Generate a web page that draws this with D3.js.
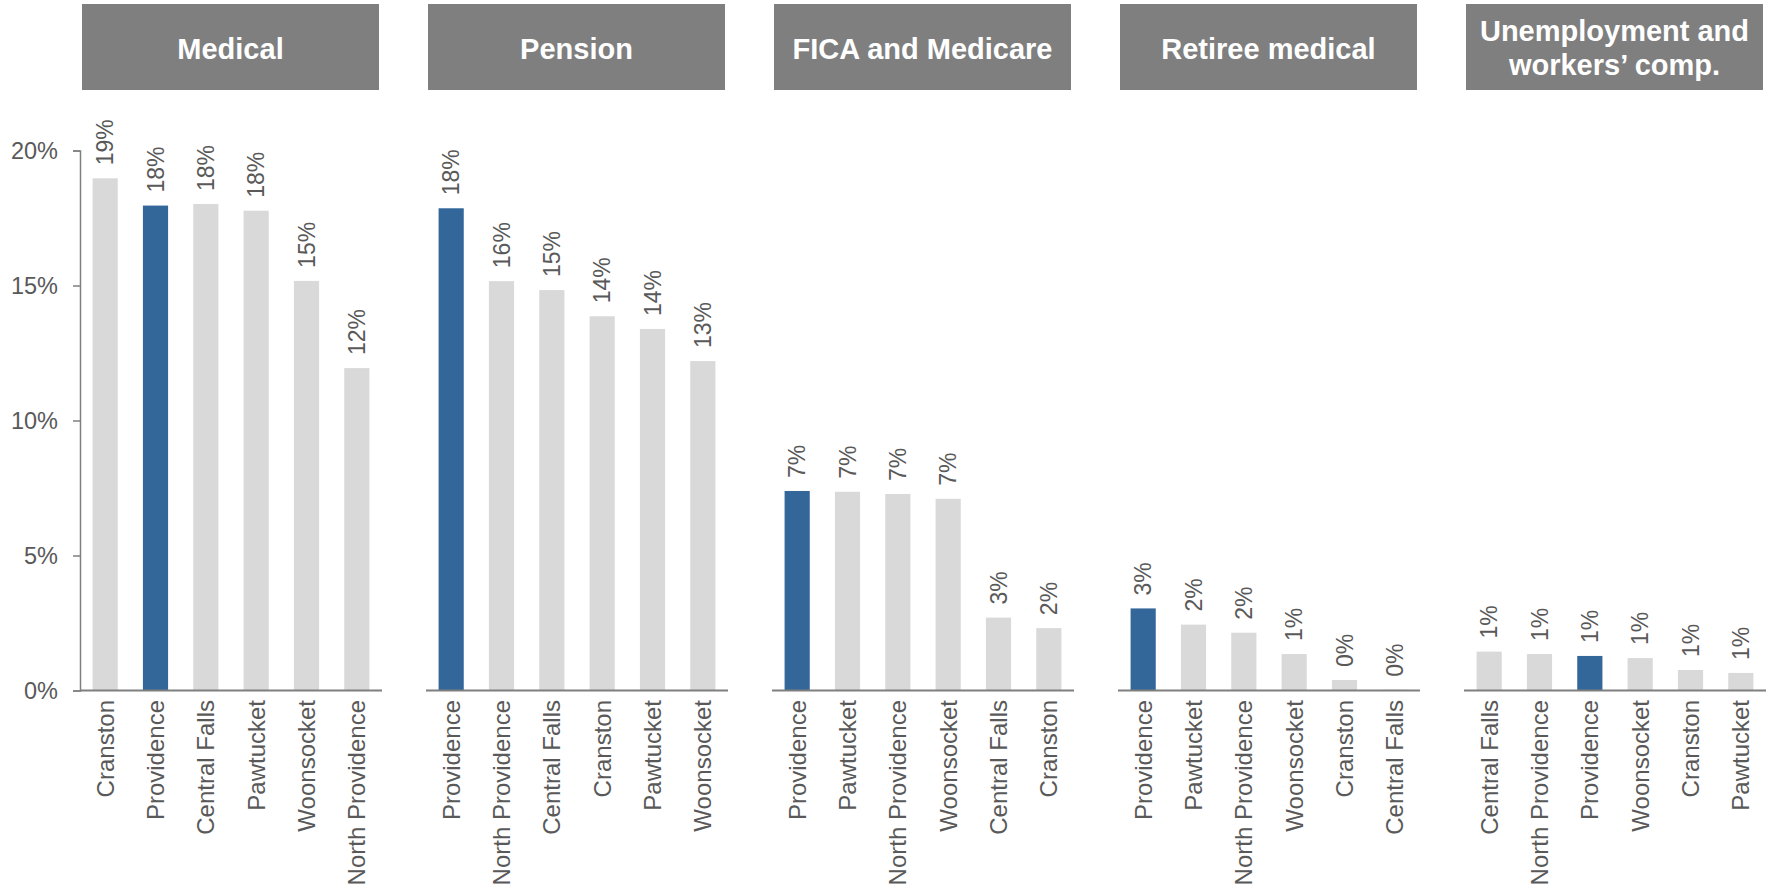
<!DOCTYPE html>
<html>
<head>
<meta charset="utf-8">
<script src="https://cdn.jsdelivr.net/npm/d3@7"></script>
<style>
  body { margin: 0; background: #fff; }
  svg { display: block; font-family: "Liberation Sans", Arial, sans-serif; }
</style>
</head>
<body>
<div id="chart"></div>
<script>
const titles = [['Medical'], ['Pension'], ['FICA and Medicare'], ['Retiree medical'], ['Unemployment and', 'workers\u2019 comp.']];

const medicalCities = ['Cranston', 'Providence', 'Central Falls', 'Pawtucket', 'Woonsocket', 'North Providence'];
const medicalValues = [18.97, 17.96, 18.02, 17.77, 15.17, 11.94];
const medicalLabels = ['19%', '18%', '18%', '18%', '15%', '12%'];

const pensionCities = ['Providence', 'North Providence', 'Central Falls', 'Cranston', 'Pawtucket', 'Woonsocket'];
const pensionValues = [17.86, 15.16, 14.83, 13.86, 13.39, 12.2];
const pensionLabels = ['18%', '16%', '15%', '14%', '14%', '13%'];

const ficaCities = ['Providence', 'Pawtucket', 'North Providence', 'Woonsocket', 'Central Falls', 'Cranston'];
const ficaValues = [7.39, 7.36, 7.28, 7.1, 2.7, 2.31];
const ficaLabels = ['7%', '7%', '7%', '7%', '3%', '2%'];

const retireeCities = ['Providence', 'Pawtucket', 'North Providence', 'Woonsocket', 'Cranston', 'Central Falls'];
const retireeValues = [3.04, 2.44, 2.14, 1.35, 0.39, 0.03];
const retireeLabels = ['3%', '2%', '2%', '1%', '0%', '0%'];

const unempCities = ['Central Falls', 'North Providence', 'Providence', 'Woonsocket', 'Cranston', 'Pawtucket'];
const unempValues = [1.44, 1.35, 1.28, 1.2, 0.76, 0.65];
const unempLabels = ['1%', '1%', '1%', '1%', '1%', '1%'];

const yTicks = [0, 5, 10, 15, 20];
const highlight = 'Providence';

const panels = [
  { cities: medicalCities, values: medicalValues, labels: medicalLabels },
  { cities: pensionCities, values: pensionValues, labels: pensionLabels },
  { cities: ficaCities, values: ficaValues, labels: ficaLabels },
  { cities: retireeCities, values: retireeValues, labels: retireeLabels },
  { cities: unempCities, values: unempValues, labels: unempLabels }
];

const width = 1770;
const height = 891;
const panelLeft = 80;
const panelStep = 346;
const panelWidth = 302;

const svg = d3.select('#chart')
  .append('svg')
    .attr('width', width)
    .attr('height', height);

const y = d3.scaleLinear()
  .domain([0, 20])
  .range([690.5, 150.5]);

panels.forEach((p, i) => {
  const left = panelLeft + i * panelStep;
  const g = svg.append('g');

  // header box
  g.append('rect')
    .attr('x', left + 2)
    .attr('y', 4)
    .attr('width', 297)
    .attr('height', 86)
    .attr('fill', '#7f7f7f');

  const t = titles[i];
  const baselines = t.length === 1 ? [59] : [41, 75];
  t.forEach((line, j) => {
    g.append('text')
      .attr('x', left + 2 + 297 / 2)
      .attr('y', baselines[j])
      .attr('text-anchor', 'middle')
      .attr('fill', '#fff')
      .attr('font-weight', 'bold')
      .attr('font-size', '29px')
      .text(line);
  });

  const x = d3.scaleBand()
    .domain(p.cities)
    .range([left, left + panelWidth])
    .paddingInner(0.5)
    .paddingOuter(0.25);

  const data = p.cities.map((c, k) => ({ city: c, value: p.values[k], label: p.labels[k] }));

  g.selectAll('rect.bar')
    .data(data)
    .enter()
    .append('rect')
      .attr('class', 'bar')
      .attr('x', d => x(d.city))
      .attr('width', x.bandwidth())
      .attr('y', d => y(d.value))
      .attr('height', d => y(0) - y(d.value))
      .attr('fill', d => d.city === highlight ? '#336699' : '#d9d9d9');

  // value labels
  g.selectAll('text.val')
    .data(data)
    .enter()
    .append('text')
      .attr('class', 'val')
      .attr('transform', d => `translate(${x(d.city) + x.bandwidth() / 2},${y(d.value) - 13}) rotate(-90)`)
      .attr('dy', '0.35em')
      .attr('fill', '#595959')
      .attr('font-size', '23px')
      .text(d => d.label);

  // category labels
  g.selectAll('text.cat')
    .data(data)
    .enter()
    .append('text')
      .attr('class', 'cat')
      .attr('transform', d => `translate(${x(d.city) + x.bandwidth() / 2},700) rotate(-90)`)
      .attr('dy', '0.35em')
      .attr('text-anchor', 'end')
      .attr('fill', '#595959')
      .attr('font-size', '24px')
      .text(d => d.city);

  // baseline
  g.append('line')
    .attr('x1', left)
    .attr('x2', left + panelWidth)
    .attr('y1', y(0))
    .attr('y2', y(0))
    .attr('stroke', '#7f7f7f')
    .attr('stroke-width', 2);

  if (i === 0) {
    const axis = d3.axisLeft(y)
      .tickValues(yTicks)
      .tickFormat(d => d + '%')
      .tickSize(7)
      .tickPadding(15);
    const ga = svg.append('g')
      .attr('transform', `translate(${left},0)`)
      .call(axis);
    ga.select('.domain').attr('stroke', '#7f7f7f').attr('stroke-width', 1.5);
    ga.selectAll('.tick line').attr('stroke', '#7f7f7f').attr('stroke-width', 1.5);
    ga.selectAll('.tick text')
      .attr('fill', '#595959')
      .attr('font-size', '23.5px')
      .attr('font-family', '"Liberation Sans", Arial, sans-serif');
  }
});
</script>
</body>
</html>
